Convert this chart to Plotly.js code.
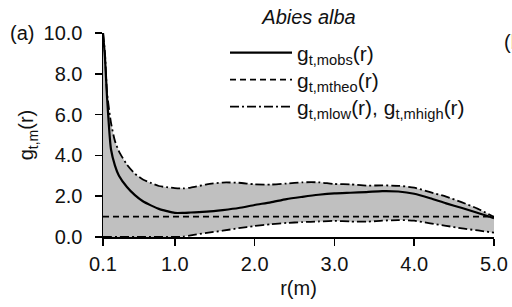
<!DOCTYPE html>
<html>
<head>
<meta charset="utf-8">
<script src="https://cdn.plot.ly/plotly-3.0.1.min.js"></script>
<style>html,body{margin:0;padding:0;background:#fff}#chart{width:512px;height:307px}</style>
</head>
<body>
<div id="chart"></div>
<script>
var r      = [0.1,0.125,0.15,0.2,0.25,0.3,0.4,0.5,0.6,0.7,0.8,0.9,1.0,1.1,1.2,1.4,1.6,1.8,2.0,2.2,2.4,2.6,2.8,3.0,3.2,3.4,3.6,3.8,4.0,4.2,4.4,4.6,4.8,5.0];
var gObs   = [10,8.8,6.9,4.3,3.5,3.0,2.45,2.05,1.75,1.55,1.38,1.27,1.18,1.18,1.2,1.24,1.32,1.42,1.57,1.7,1.86,1.97,2.07,2.14,2.17,2.2,2.25,2.23,2.12,1.9,1.65,1.42,1.18,0.92];
var gTheo  = [1,1,1,1,1,1,1,1,1,1,1,1,1,1,1,1,1,1,1,1,1,1,1,1,1,1,1,1,1,1,1,1,1,1];
var gHigh  = [10,9.0,7.1,5.6,4.7,4.2,3.55,3.1,2.82,2.65,2.5,2.44,2.4,2.38,2.42,2.58,2.67,2.66,2.58,2.57,2.62,2.68,2.68,2.6,2.58,2.52,2.53,2.51,2.42,2.2,1.98,1.7,1.38,0.98];
var gLow   = [0,0,0,0,0,0,0,0,0,0,0,0,0,0.02,0.08,0.2,0.31,0.43,0.54,0.62,0.69,0.73,0.76,0.79,0.76,0.75,0.8,0.83,0.8,0.67,0.55,0.42,0.32,0.21];
var xTickVals = [0.1,1,2,3,4,5];
var xTickText = ['0.1','1.0','2.0','3.0','4.0','5.0'];
var yTickVals = [0,2,4,6,8,10];
var yTickText = ['0.0','2.0','4.0','6.0','8.0','10.0'];

var FONT = 'Liberation Sans, Arial, sans-serif';
var dashDot = '9px,3px,2px,3px';
var sp = {shape:'spline', smoothing:0.6};

var traces = [
  {x:r, y:gLow, mode:'lines', line:Object.assign({width:0, color:'rgba(0,0,0,0)'}, sp), showlegend:false, hoverinfo:'skip'},
  {x:r, y:gHigh, mode:'lines', line:Object.assign({width:0, color:'rgba(0,0,0,0)'}, sp), fill:'tonexty', fillcolor:'rgb(192,192,192)', showlegend:false, hoverinfo:'skip'},
  {x:r, y:gTheo, mode:'lines', name:'g<sub>t,mtheo</sub>(r)', line:{color:'#000', width:1.8, dash:'6px,4px'}, legend:'legend2'},
  {x:r, y:gLow, mode:'lines', name:'g<sub>t,mlow</sub>(r), g<sub>t,mhigh</sub>(r)', line:Object.assign({color:'#000', width:1.8, dash:dashDot}, sp), legend:'legend3'},
  {x:r, y:gHigh, mode:'lines', name:'high', line:Object.assign({color:'#000', width:1.8, dash:dashDot}, sp), showlegend:false},
  {x:r, y:gObs, mode:'lines', name:'g<sub>t,mobs</sub>(r)', line:Object.assign({color:'#000', width:2.2}, sp), legend:'legend'}
];

function legendAt(rowY) {
  return {x:(225-103)/391, xanchor:'left', y:1-(rowY-33)/204, yanchor:'middle', bgcolor:'rgba(0,0,0,0)',
          font:{size:21, family:FONT, color:'#111'}, itemwidth:62};
}

var layout = {
  width:512, height:307,
  margin:{l:103, r:18, t:33, b:70},
  paper_bgcolor:'#fff', plot_bgcolor:'rgba(0,0,0,0)',
  font:{family:FONT, size:20, color:'#111'},
  title:{text:'<i>Abies alba</i>', x:309/512, xanchor:'center', y:1-17/307, yanchor:'middle', font:{size:20, family:FONT, color:'#111'}},
  xaxis:{range:[0.1,5.0], tickmode:'array', tickvals:xTickVals, ticktext:xTickText,
         showline:true, linecolor:'#000', linewidth:1.5, ticks:'outside', ticklen:7, tickwidth:1.5, tickcolor:'#000',
         showgrid:false, zeroline:false, tickfont:{size:20}, ticklabelstandoff:1,
         title:{text:'r(m)', font:{size:20}, standoff:7}},
  yaxis:{range:[0,10], tickmode:'array', tickvals:yTickVals, ticktext:yTickText,
         showline:true, linecolor:'#000', linewidth:1.5, ticks:'outside', ticklen:7, tickwidth:1.5, tickcolor:'#000',
         showgrid:false, zeroline:false, tickfont:{size:20}, ticklabelstandoff:8,
         title:{text:'g<sub>t,m</sub>(r)', font:{size:20}, standoff:4}},
  showlegend:true,
  legend:legendAt(53),
  legend2:legendAt(80),
  legend3:legendAt(107),
  annotations:[
    {text:'(a)', xref:'paper', yref:'paper', x:-95/391, xanchor:'left', y:1, yanchor:'middle', showarrow:false, font:{size:20}},
    {text:'(b)', xref:'paper', yref:'paper', x:(502-103)/391, xanchor:'left', y:1-(42-33)/204, yanchor:'middle', showarrow:false, font:{size:20}}
  ]
};

Plotly.newPlot('chart', traces, layout, {displayModeBar:false, staticPlot:true});
</script>
</body>
</html>
